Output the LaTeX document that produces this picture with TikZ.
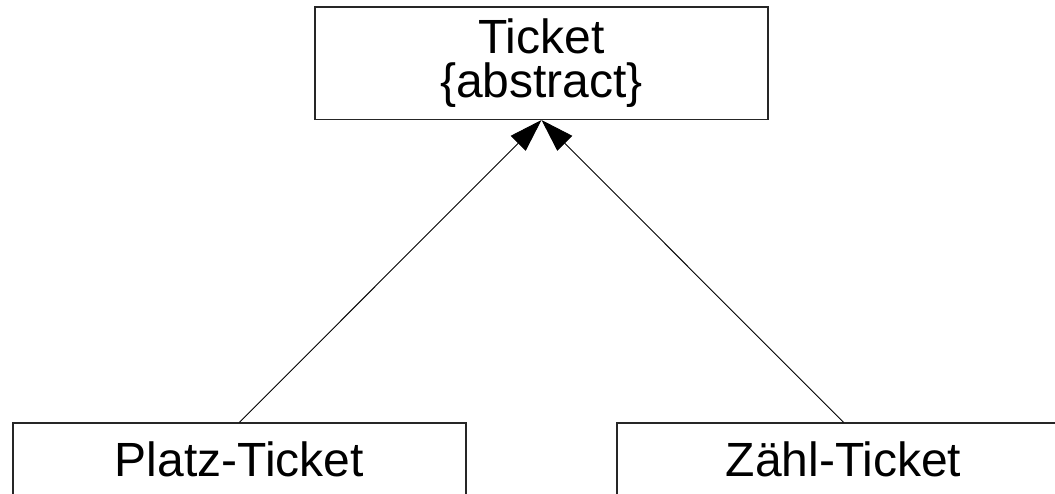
\documentclass[tikz,border=0pt]{standalone}
\usepackage{fontspec}
\setmainfont{Liberation Sans}
\usetikzlibrary{arrows.meta}
\begin{document}
\begin{tikzpicture}[x=1pt,y=-1pt,
 box/.style={draw=black!85, line width=1.3pt, minimum width=453pt, inner sep=0pt, font=\fontsize{48}{44}\selectfont},
 topbox/.style={box, minimum height=112.3pt, align=center},
 subbox/.style={box, anchor=north, text height=54pt, text depth=60pt},
 inherit/.style={line width=0.9pt, -{Triangle[length=33pt,width=21pt]}}]
\useasboundingbox (0,0) rectangle (1055,494);
\clip (0,0) rectangle (1055,494);
\node[topbox] (ticket) at (541.5,63.2) {Ticket\\\{abstract\}};
\node[subbox] (platz) at (239.4,422.3) {Platz-Ticket};
\node[subbox] (zaehl) at (843.5,422.3) {Zähl-Ticket};
\draw[inherit] (platz.north) -- (ticket.south);
\draw[inherit] (zaehl.north) -- (ticket.south);
\end{tikzpicture}
\end{document}
